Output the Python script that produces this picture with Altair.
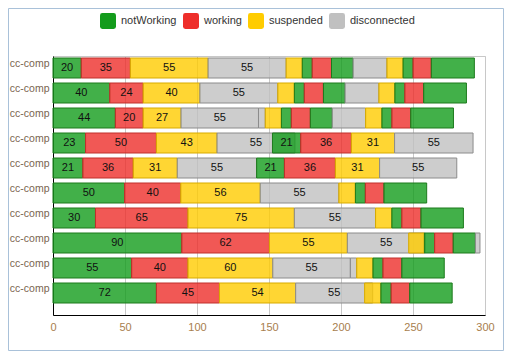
import altair as alt
import pandas as pd

FONT = "Liberation Sans"

N, W, S, D = "notWorking", "working", "suspended", "disconnected"
statuses = [N, W, S, D]
status_colors = ["#139c1c", "#ee2e2a", "#ffcc00", "#c0c0c0"]
status_edges = ["#1d7a1d", "#c0302c", "#d8ab00", "#8c8c8c"]

row_names = ["cc-comp"] * 10

seg_status = [
    [N, W, S, D, S, N, W, N, D, S, N, W, N],
    [N, W, S, D, S, N, W, N, D, S, N, W, N],
    [N, W, S, D, D, S, N, W, N, D, S, N, W, N],
    [N, W, S, D, N, W, S, D],
    [N, W, S, D, N, W, S, D],
    [N, W, S, D, S, N, W, N],
    [N, W, S, D, S, N, W, N],
    [N, W, S, D, S, N, W, N, D],
    [N, W, S, D, D, S, N, W, N],
    [N, W, S, D, S, N, W, N],
]
seg_start = [
    [0, 19.6, 53.7, 107.7, 161.9, 173.1, 180.0, 193.4, 208.4, 231.9, 243.1, 250.0, 262.7],
    [0, 39.4, 62.6, 102.0, 156.1, 167.6, 174.5, 187.8, 202.8, 226.3, 237.4, 244.3, 257.4],
    [0, 43.3, 62.6, 88.9, 142.7, 147.4, 158.6, 165.5, 178.7, 193.9, 217.1, 228.4, 235.3, 248.4],
    [0, 22.6, 71.8, 113.9, 152.4, 172.0, 207.2, 237.2],
    [0, 20.7, 55.7, 86.3, 141.4, 160.7, 196.1, 226.8],
    [0, 49.7, 88.7, 143.9, 198.5, 210.0, 216.9, 229.8],
    [0, 29.5, 93.7, 167.6, 224.0, 235.3, 242.2, 255.5],
    [0, 89.4, 150.3, 204.4, 247.0, 257.9, 265.0, 277.9, 293.3],
    [0, 54.6, 93.7, 152.6, 206.5, 210.9, 222.2, 229.1, 242.2],
    [0, 71.8, 115.6, 168.5, 216.4, 227.7, 234.8, 247.7],
]
seg_end = [
    [19.6, 53.7, 107.7, 161.9, 173.1, 180.0, 193.4, 208.4, 231.9, 243.1, 250.0, 262.7, 292.6],
    [39.4, 62.6, 102.0, 156.1, 167.6, 174.5, 187.8, 202.8, 226.3, 237.4, 244.3, 257.4, 287.1],
    [43.3, 62.6, 88.9, 142.7, 147.4, 158.6, 165.5, 178.7, 193.9, 217.1, 228.4, 235.3, 248.4, 278.1],
    [22.6, 71.8, 113.9, 168.0, 172.0, 207.2, 237.2, 291.7],
    [20.7, 55.7, 86.3, 141.4, 160.7, 196.1, 226.8, 280.4],
    [49.7, 88.7, 143.9, 198.5, 210.0, 216.9, 229.8, 259.5],
    [29.5, 93.7, 167.6, 224.0, 235.3, 242.2, 255.5, 285.0],
    [89.4, 150.3, 204.4, 258.4, 257.9, 265.0, 277.9, 293.3, 296.5],
    [54.6, 93.7, 152.6, 206.5, 210.9, 222.2, 229.1, 242.2, 271.7],
    [71.8, 115.6, 168.5, 222.0, 227.7, 234.8, 247.7, 277.2],
]
seg_label = [
    ["20", "35", "55", "55"],
    ["40", "24", "40", "55"],
    ["44", "20", "27", "55"],
    ["23", "50", "43", "55", "21", "36", "31", "55"],
    ["21", "36", "31", "55", "21", "36", "31", "55"],
    ["50", "40", "56", "55"],
    ["30", "65", "75", "55"],
    ["90", "62", "55", "55"],
    ["55", "40", "60", "55"],
    ["72", "45", "54", "55"],
]
x_ticks = [0, 50, 100, 150, 200, 250, 300]
x_domain = [0, 300]

records = []
for r in range(len(row_names)):
    for k in range(len(seg_status[r])):
        records.append(dict(
            row=r, status=seg_status[r][k], start=seg_start[r][k], end=seg_end[r][k],
            label=seg_label[r][k] if k < len(seg_label[r]) else "", seq=k,
        ))
df = pd.DataFrame(records)

label_expr = "[" + ",".join("'%s'" % n for n in row_names) + "][datum.value]"

x_scale = alt.Scale(domain=x_domain, nice=False, zero=False)
y_scale = alt.Scale(paddingInner=0.2, paddingOuter=0.28, align=0.143)

y_enc = alt.Y(
    "row:O",
    scale=y_scale,
    axis=alt.Axis(title=None, labelExpr=label_expr, ticks=False, labelPadding=4,
                  labelOffset=-4, labelFontSize=10.5, labelColor="#7a644f",
                  labelFont=FONT, gridColor="#d6d6d6", domainColor="#000000"),
)

rounded = "M-0.7,-1H0.7Q1,-1,1,-0.7V0.7Q1,1,0.7,1H-0.7Q-1,1,-1,0.7V-0.7Q-1,-1,-0.7,-1Z"

base = alt.Chart(df)

bars = base.mark_bar(fillOpacity=0.8, strokeWidth=1).encode(
    x=alt.X("start:Q", scale=x_scale,
            axis=alt.Axis(title=None, values=x_ticks, ticks=False, labelPadding=6,
                          labelFlush=False, labelFontSize=11, labelColor="#a87e4e",
                          labelFont=FONT, gridColor="#c8c8c8", domainColor="#000000")),
    x2="end:Q",
    y=y_enc,
    color=alt.Color("status:N", scale=alt.Scale(domain=statuses, range=status_colors),
                    legend=alt.Legend(title=None, orient="none", direction="horizontal",
                                      legendX=47, legendY=-43, symbolType=rounded,
                                      symbolSize=256, symbolStrokeWidth=0, symbolOpacity=1,
                                      labelFontSize=11, labelFont=FONT, labelColor="#333333",
                                      labelOffset=5, columnPadding=6)),
    stroke=alt.Stroke("status:N", scale=alt.Scale(domain=statuses, range=status_edges),
                      legend=None),
)

texts = base.transform_filter("datum.label != ''").transform_calculate(
    mid="(datum.start + datum.end) / 2"
).mark_text(fontSize=11, font=FONT, color="#111111").encode(
    x=alt.X("mid:Q", scale=x_scale),
    y=alt.Y("row:O", scale=y_scale),
    text="label:N",
)

frame = alt.Chart(pd.DataFrame({"f": [0]})).mark_rect(
    fillOpacity=0, stroke="#a9c1d9", strokeWidth=1
).encode(
    x=alt.value(-44.5), x2=alt.value(450.5), y=alt.value(-47.5), y2=alt.value(294.5)
)

chart = alt.layer(frame, bars, texts).properties(
    width=432, height=259,
    autosize=alt.AutoSizeParams(type="none"),
    padding={"left": 45, "top": 48, "right": 19, "bottom": 36},
).configure_view(stroke="#c8c8c8")

chart.save("out.html", embed_options={"renderer": "svg", "actions": False})
